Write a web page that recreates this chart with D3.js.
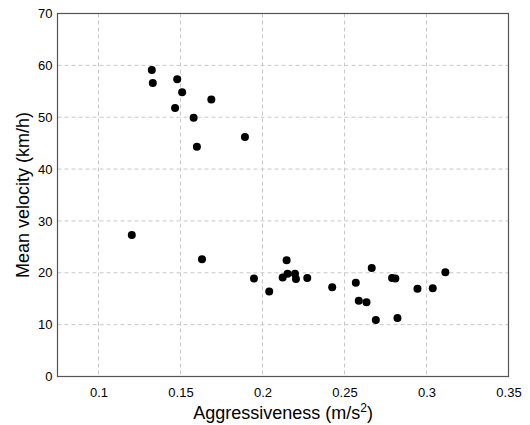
<!DOCTYPE html>
<html>
<head>
<meta charset="utf-8">
<script src="https://cdn.jsdelivr.net/npm/d3@7"></script>
<style>
  body { margin: 0; background: #fff; }
  text { font-family: "Liberation Sans", Arial, Helvetica, sans-serif; fill: #000; }
</style>
</head>
<body>
<svg id="chart" width="530" height="425"></svg>
<script>
// aggressiveness (m/s^2) and mean velocity (km/h)
const aggressiveness = [
  0.1325, 0.1331, 0.148, 0.151, 0.1467, 0.1688, 0.158, 0.160, 0.1893,
  0.1203, 0.1631, 0.1948, 0.2041, 0.2147, 0.2123, 0.2153, 0.2198, 0.2204,
  0.2273, 0.2425, 0.2569, 0.2666, 0.2587, 0.2634, 0.2691, 0.279, 0.281,
  0.2823, 0.2945, 0.3038, 0.3115
];
const meanVelocity = [
  59.1, 56.6, 57.3, 54.8, 51.8, 53.4, 49.9, 44.3, 46.2,
  27.3, 22.6, 18.9, 16.4, 22.4, 19.1, 19.8, 19.8, 18.8,
  19.0, 17.2, 18.1, 20.9, 14.6, 14.3, 10.9, 19.0, 18.9,
  11.3, 16.9, 17.0, 20.1
];
const xTicks = [0.1, 0.15, 0.2, 0.25, 0.3, 0.35];
const yTicks = [0, 10, 20, 30, 40, 50, 60, 70];

const points = aggressiveness.map((a, i) => ({ x: a, y: meanVelocity[i] }));

const margin = { top: 13.5, right: 21.5, bottom: 48.5, left: 57.5 };
const width = 530 - margin.left - margin.right;
const height = 425 - margin.top - margin.bottom;

const svg = d3.select("#chart");
const g = svg.append("g")
  .attr("transform", "translate(" + margin.left + "," + margin.top + ")");

const x = d3.scaleLinear().domain([0.075, 0.35]).range([0, width]);
const y = d3.scaleLinear().domain([0, 70]).range([height, 0]);

// grid
g.append("g")
  .attr("class", "grid")
  .selectAll("line.v")
  .data(xTicks)
  .enter()
  .append("line")
  .attr("x1", d => x(d)).attr("x2", d => x(d))
  .attr("y1", 0).attr("y2", height)
  .style("stroke", "#c8c8c8")
  .style("stroke-dasharray", "4,3");

g.append("g")
  .attr("class", "grid")
  .selectAll("line.h")
  .data(yTicks)
  .enter()
  .append("line")
  .attr("x1", 0).attr("x2", width)
  .attr("y1", d => y(d)).attr("y2", d => y(d))
  .style("stroke", "#c8c8c8")
  .style("stroke-dasharray", "4,3");

// axes (labels only, no tick marks)
const xAxis = g.append("g")
  .attr("transform", "translate(0," + height + ")")
  .call(d3.axisBottom(x).tickValues(xTicks).tickSize(0).tickPadding(11)
    .tickFormat(d => String(d)));
const yAxis = g.append("g")
  .call(d3.axisLeft(y).tickValues(yTicks).tickSize(0).tickPadding(5)
    .tickFormat(d => String(d)));

[xAxis, yAxis].forEach(a => {
  a.select(".domain").remove();
  a.selectAll("text")
    .style("font-size", "13px")
    .style("font-family", "'Liberation Sans', Arial, sans-serif")
    .attr("fill", "#000");
});

// frame
g.append("rect")
  .attr("width", width)
  .attr("height", height)
  .style("fill", "none")
  .style("stroke", "#555")
  .style("stroke-width", 1.2);

// points
g.selectAll("circle")
  .data(points)
  .enter()
  .append("circle")
  .attr("cx", d => x(d.x))
  .attr("cy", d => y(d.y))
  .attr("r", 4)
  .style("fill", "#000");

// axis titles
const xTitle = svg.append("text")
  .attr("x", margin.left + width / 2)
  .attr("y", 419)
  .attr("text-anchor", "middle")
  .style("font-size", "18px");
xTitle.append("tspan").text("Aggressiveness (m/s");
xTitle.append("tspan").attr("dy", "-7").style("font-size", "12px").text("2");
xTitle.append("tspan").attr("dy", "7").text(")");

svg.append("text")
  .attr("transform", "translate(29," + (margin.top + height / 2) + ")rotate(-90)")
  .attr("text-anchor", "middle")
  .style("font-size", "18px")
  .text("Mean velocity (km/h)");
</script>
</body>
</html>
